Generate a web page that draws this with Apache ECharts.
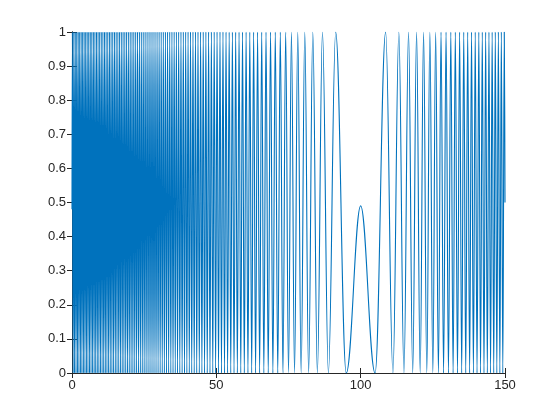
<!DOCTYPE html>
<html>
<head>
<meta charset="utf-8">
<script src="https://cdn.jsdelivr.net/npm/echarts@6/dist/echarts.min.js"></script>
<style>html,body{margin:0;padding:0;background:#fff;}#c{width:560px;height:420px;}</style>
</head>
<body>
<div id="c"></div>
<script>
// x positions of maxima (y = 1), read/
const peakX = [0.13,0.63,1.13,1.64,2.15,2.66,3.18,3.69,4.21,4.74,5.26,5.79,6.33,6.86,7.40,7.94,8.49,9.03,9.58,10.14,10.70,11.26,11.82,12.39,12.97,13.54,14.12,14.71,15.30,15.89,16.48,17.08,17.69,18.30,18.91,19.53,20.16,20.79,21.42,22.06,22.70,23.35,24.01,24.67,25.33,26.01,26.69,27.37,28.06,28.76,29.47,30.18,30.90,31.63,32.36,33.11,33.86,34.62,35.39,36.16,36.95,37.75,38.56,39.38,40.21,41.05,41.91,42.77,43.65,44.55,45.46,46.38,47.32,48.28,49.26,50.25,51.27,52.30,53.36,54.45,55.56,56.70,57.87,59.07,60.31,61.59,62.92,64.29,65.72,67.21,68.78,70.42,72.16,74.02,76.02,78.21,80.64,83.42,86.77,91.34,
  108.66,113.23,116.58,119.37,121.79,123.98,125.98,127.84,129.58,131.23,132.79,134.28,135.71,137.08,138.41,139.69,140.93,142.13,143.30,144.44,145.55,146.64,147.70,148.73,149.75];
// x positions of minima (y = 0)
const troughX = [0.38,0.88,1.39,1.89,2.40,2.92,3.43,3.95,4.48,5.00,5.53,6.06,6.59,7.13,7.67,8.21,8.76,9.31,9.86,10.42,10.98,11.54,12.11,12.68,13.25,13.83,14.41,15.00,15.59,16.19,16.78,17.39,17.99,18.61,19.22,19.84,20.47,21.10,21.74,22.38,23.03,23.68,24.34,25.00,25.67,26.35,27.03,27.72,28.41,29.11,29.82,30.54,31.26,31.99,32.73,33.48,34.24,35.00,35.77,36.56,37.35,38.15,38.97,39.79,40.63,41.48,42.34,43.21,44.10,45.00,45.92,46.85,47.80,48.77,49.75,50.76,51.78,52.83,53.90,55.00,56.13,57.28,58.47,59.69,60.95,62.25,63.60,65.00,66.46,67.98,69.59,71.28,73.07,75.00,77.09,79.38,81.97,85.00,88.82,95.00,
  105.00,111.18,115.00,118.03,120.62,122.91,125.00,126.93,128.72,130.41,132.02,133.54,135.00,136.40,137.75,139.05,140.31,141.53,142.72,143.88,145.00,146.10,147.17,148.22,149.24];
// other points: the ends and the central hump
const otherX = [0, 100, 150];
const otherY = [0.48, 0.49, 0.5];
const xTicks = [0, 50, 100, 150];
const yTicks = [0, 0.1, 0.2, 0.3, 0.4, 0.5, 0.6, 0.7, 0.8, 0.9, 1];

const pts = [];
peakX.forEach(x => pts.push([x, 1]));
troughX.forEach(x => pts.push([x, 0]));
otherX.forEach((x, i) => pts.push([x, otherY[i]]));
pts.sort((a, b) => a[0] - b[0]);

const axisCol = '#262626';
const font = 'Liberation Sans, Arial, sans-serif';
function xAx(pos, showLabel) {
  return {
    type: 'value', position: pos, min: xTicks[0], max: xTicks[xTicks.length - 1], interval: 50,
    axisLine: {show: true, lineStyle: {color: axisCol, width: 1}},
    axisTick: {show: true, inside: true, length: 5, lineStyle: {color: axisCol}},
    axisLabel: {show: showLabel, color: axisCol, fontSize: 13, fontFamily: font, margin: 6},
    splitLine: {show: false}
  };
}
function yAx(pos, showLabel) {
  return {
    type: 'value', position: pos, min: yTicks[0], max: yTicks[yTicks.length - 1], interval: 0.1,
    axisLine: {show: true, lineStyle: {color: axisCol, width: 1}},
    axisTick: {show: true, inside: true, length: 5, lineStyle: {color: axisCol}},
    axisLabel: {show: showLabel, color: axisCol, fontSize: 13, fontFamily: font, margin: 6,
      formatter: v => String(Math.round(v * 10) / 10)},
    splitLine: {show: false}
  };
}
const chart = echarts.init(document.getElementById('c'), null, {renderer: 'canvas'});
chart.setOption({
  animation: false,
  backgroundColor: '#ffffff',
  grid: {left: 72, right: 55, top: 32, bottom: 47, containLabel: false},
  xAxis: [xAx('bottom', true), xAx('top', false)],
  yAxis: [yAx('left', true), yAx('right', false)],
  series: [{
    type: 'line', xAxisIndex: 0, yAxisIndex: 0,
    data: pts, showSymbol: false, symbol: 'none',
    smooth: 0.4, smoothMonotone: 'x',
    lineStyle: {color: '#0072BD', width: 1.1},
    clip: true
  }]
});
</script>
</body>
</html>
